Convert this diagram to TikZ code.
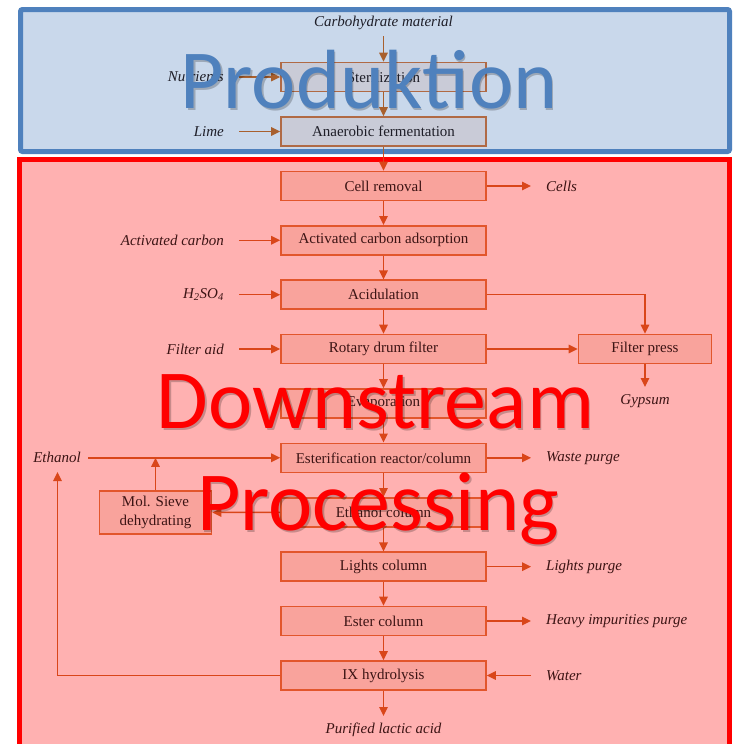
\documentclass[tikz,border=0pt]{standalone}
\usepackage{fontspec}
\setmainfont{Liberation Serif}
\newfontfamily\bigfont{Carlito}
\usetikzlibrary{arrows.meta}
\definecolor{blueB}{HTML}{4F81BD}
\definecolor{blueF}{HTML}{C9D8EB}
\definecolor{redB}{HTML}{FF0000}
\definecolor{redF}{HTML}{FFB1B1}
\definecolor{topBoxF}{HTML}{C9CBD7}
\definecolor{topBoxD}{HTML}{B06A45}
\definecolor{topArr}{HTML}{A8602E}
\definecolor{botBoxF}{HTML}{F9A39C}
\definecolor{botBoxD}{HTML}{E2562C}
\definecolor{botArr}{HTML}{D9461A}
\definecolor{botTxt}{HTML}{3C1414}
\definecolor{topTxt}{HTML}{1E1E28}
\tikzset{
  procbox/.style={draw=botBoxD, fill=botBoxF, line width=1.6pt, minimum width=205pt, minimum height=29pt, inner sep=0pt, font=\fontsize{15}{18}\selectfont, text=botTxt},
  topbox/.style={procbox, draw=topBoxD, fill=topBoxF, text=topTxt},
  lbl/.style={inner sep=0pt, font=\fontsize{15}{18}\selectfont\itshape, text=botTxt},
  lbltop/.style={lbl, text=topTxt},
  arr/.style={draw=botArr, line width=1.5pt, -{Triangle[length=9pt,width=8.5pt]}},
  arrtop/.style={arr, draw=topArr},
  bigtxt/.style={anchor=base, inner sep=0pt, font=\bigfont\fontsize{84}{84}\selectfont},
  bigshadow/.style={bigtxt, text=black, opacity=0.22}
}
\begin{document}
\begin{tikzpicture}[x=1pt,y=-1pt]
\useasboundingbox (0,0) rectangle (732,744);
\clip (0,0) rectangle (732,744);
% region frames
\draw[draw=blueB, fill=blueF, line width=5pt, rounded corners=2pt] (20.5,9.5) rectangle (729.5,151.5);
\draw[draw=redB, fill=redF, line width=5pt] (19.5,159.5) rectangle (729.5,770);

% process boxes
\node[topbox] (ster) at (383.5,77) {Sterilization};
\node[topbox] (anae) at (383.5,131.5) {Anaerobic fermentation};
\node[procbox] (cell) at (383.5,186) {Cell removal};
\node[procbox] (act) at (383.5,240.3) {Activated carbon adsorption};
\node[procbox] (acid) at (383.5,294.7) {Acidulation};
\node[procbox] (rot) at (383.5,349) {Rotary drum filter};
\node[procbox] (evap) at (383.5,403.4) {Evaporation};
\node[procbox] (est) at (383.5,457.8) {Esterification reactor/column};
\node[procbox] (ethc) at (383.5,512.3) {Ethanol column};
\node[procbox] (lig) at (383.5,566.7) {Lights column};
\node[procbox] (estc) at (383.5,621) {Ester column};
\node[procbox] (ix) at (383.5,675.5) {IX hydrolysis};
\node[procbox, minimum width=133pt] (fp) at (645,349) {Filter press};
\node[procbox, minimum width=112pt, minimum height=43pt, align=center, font=\fontsize{15}{19}\selectfont] (mol) at (155.5,512.5) {Mol. Sieve\\dehydrating};

% labels
\node[lbltop] (carb) at (383.5,23) {Carbohydrate material};
\node[lbltop, anchor=east] (nut) at (224,77) {Nutrients};
\node[lbltop, anchor=east] (lime) at (224,131.5) {Lime};
\node[lbl, anchor=east] (actc) at (224,240.3) {Activated carbon};
\node[lbl, anchor=east] (h2so4) at (224,294.7) {H\textsubscript{2}SO\textsubscript{4}};
\node[lbl, anchor=east] (fa) at (224,349) {Filter aid};
\node[lbl, anchor=west] (cells) at (546,186) {Cells};
\node[lbl] (gyp) at (645,401) {Gypsum};
\node[lbl] (eth) at (57,457.8) {Ethanol};
\node[lbl, anchor=west] (waste) at (546,457.8) {Waste purge};
\node[lbl, anchor=west] (lpur) at (546,566.7) {Lights purge};
\node[lbl, anchor=west] (hip) at (546,621) {Heavy impurities purge};
\node[lbl, anchor=west] (water) at (546,675.5) {Water};
\node[lbl] (pla) at (383.5,730) {Purified lactic acid};

% free ends
\coordinate (carbA) at (383.5,36);
\coordinate (nutA) at (239,77);
\coordinate (limeA) at (239,131.5);
\coordinate (actA) at (239,240.3);
\coordinate (h2A) at (239,294.7);
\coordinate (faA) at (239,349);
\coordinate (cellsA) at (531,186);
\coordinate (gypA) at (645,387);
\coordinate (ethA) at (88,457.8);
\coordinate (molUp) at (155.5,457.8);
\coordinate (ixUp) at (57.5,472);
\coordinate (wasteA) at (531,457.8);
\coordinate (lpA) at (531,566.7);
\coordinate (hipA) at (531,621);
\coordinate (waterA) at (531,675.5);
\coordinate (plaA) at (383.5,716);

% connectors (top)
\draw[arrtop] (carbA) -- (ster);
\draw[arrtop] (nutA) -- (ster);
\draw[arrtop] (limeA) -- (anae);
\draw[arrtop] (ster) -- (anae);
\draw[arr] (anae) -- (cell);
\draw[draw=topArr, line width=1.5pt] (anae.south) -- ++(0,6);
% connectors (downstream)
\draw[arr] (cell) -- (act);
\draw[arr] (act) -- (acid);
\draw[arr] (acid) -- (rot);
\draw[arr] (rot) -- (evap);
\draw[arr] (evap) -- (est);
\draw[arr] (est) -- (ethc);
\draw[arr] (ethc) -- (lig);
\draw[arr] (lig) -- (estc);
\draw[arr] (estc) -- (ix);
\draw[arr] (ix) -- (plaA);
\draw[arr] (actA) -- (act);
\draw[arr] (h2A) -- (acid);
\draw[arr] (faA) -- (rot);
\draw[arr] (cell) -- (cellsA);
\draw[arr] (acid) -| (fp);
\draw[arr] (rot) -- (fp);
\draw[arr] (fp) -- (gypA);
\draw[arr] (ethA) -- (est);
\draw[arr] (mol) -- (molUp);
\draw[arr] (ethc) -- (mol);
\draw[arr] (ix.west) -| (ixUp);
\draw[arr] (est) -- (wasteA);
\draw[arr] (lig) -- (lpA);
\draw[arr] (estc) -- (hipA);
\draw[arr] (waterA) -- (ix);

% big titles
\node[bigshadow] (prodS) at (370.5,110) {Produktion};
\node[bigtxt, text=blueB] (prod) at (369,108) {Produktion};
\node[bigshadow] (downS) at (377,430) {Downstream};
\node[bigtxt, text=redB] (down) at (375.5,428) {Downstream};
\node[bigshadow] (procS) at (379.5,532) {Processing};
\node[bigtxt, text=redB] (proc) at (378,530) {Processing};
\end{tikzpicture}
\end{document}
